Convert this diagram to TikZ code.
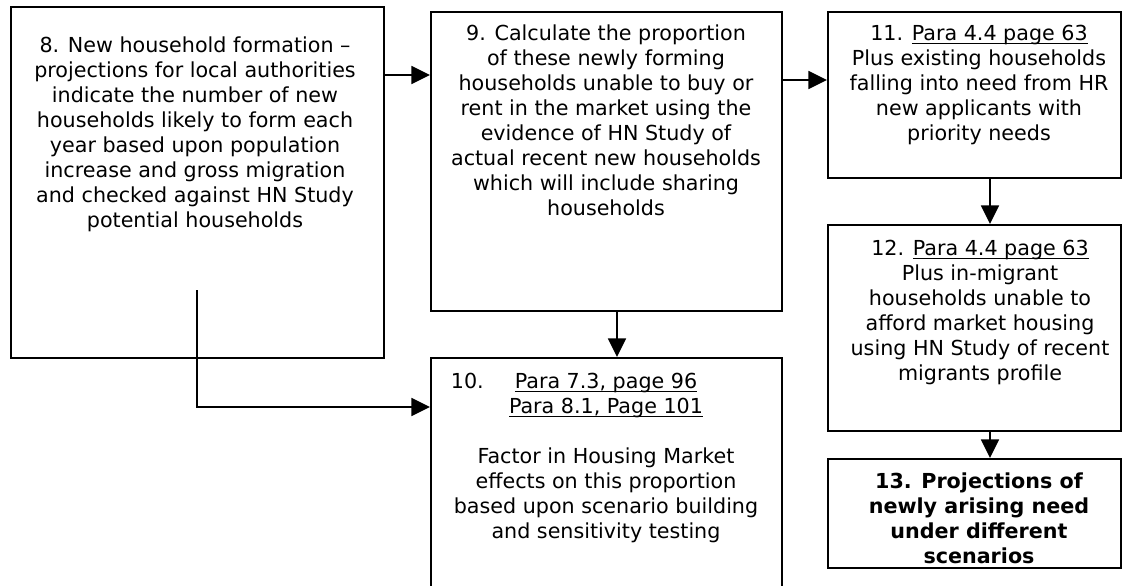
\documentclass[tikz,border=0pt]{standalone}
\usepackage{fontspec}
\setmainfont{DejaVu Sans}
\usetikzlibrary{arrows.meta}
\newcommand\myul[1]{\setbox0\hbox{#1}\rlap{\rule[-2.8pt]{\wd0}{0.9pt}}\box0}
\begin{document}
\begin{tikzpicture}[x=0.75pt,y=-0.75pt,
  box/.style={draw, line width=1.3pt, rectangle, inner sep=0pt, anchor=north west},
  txt/.style={anchor=north, inner sep=0pt, align=center, font=\fontsize{15.5pt}{18.75pt}\selectfont},
  bold/.style={txt, font=\fontsize{15.5pt}{18.75pt}\selectfont\bfseries},
  arr/.style={line width=1.3pt, -{Triangle[length=14pt,width=13.5pt]}}]
\useasboundingbox (0,0) rectangle (1122,586);
\clip (0,0) rectangle (1122,586);
\fill[white] (0,0) rectangle (1122,586);
% boxes
\node[box, minimum width=279.75pt, minimum height=263.25pt] (b8) at (10,6) {};
\node[box, minimum width=263.25pt, minimum height=224.25pt] (b9) at (430,11) {};
\node[box, minimum width=263.25pt, minimum height=197.25pt] (b10) at (430,357) {};
\node[box, minimum width=219.75pt, minimum height=124.5pt] (b11) at (827,11) {};
\node[box, minimum width=219.75pt, minimum height=154.5pt] (b12) at (827,224) {};
\node[box, minimum width=219.75pt, minimum height=81.75pt] (b13) at (827,458) {};
% texts
\node[txt] (t8) at (195,37) {8. New household formation –\\projections for local authorities\\indicate the number of new\\households likely to form each\\year based upon population\\increase and gross migration\\and checked against HN Study\\potential households};
\node[txt] (t9) at (606,25) {9. Calculate the proportion\\of these newly forming\\households unable to buy or\\rent in the market using the\\evidence of HN Study of\\actual recent new households\\which will include sharing\\households};
\node[txt] (t10) at (606,373) {\makebox[0pt][r]{10.\hspace{23.25pt}}\myul{Para 7.3, page 96}\\\myul{Para 8.1, Page 101}\\[18.75pt]Factor in Housing Market\\effects on this proportion\\based upon scenario building\\and sensitivity testing};
\node[txt] (t11) at (979,25) {11. \myul{Para 4.4 page 63}\\Plus existing households\\falling into need from HR\\new applicants with\\priority needs};
\node[txt] (t12) at (980,240) {12. \myul{Para 4.4 page 63}\\Plus in-migrant\\households unable to\\afford market housing\\using HN Study of recent\\migrants profile};
\node[bold] (t13) at (979,473) {13. Projections of\\newly arising need\\under different\\scenarios};
% connectors
\draw[arr] (b8.east |- 0,75) -- (b9.west |- 0,75);
\draw[arr] (b9.east |- 0,80) -- (b11.west |- 0,80);
\draw[arr] (b9.south -| 617,0) -- (b10.north -| 617,0);
\draw[arr] (b11.south -| 990,0) -- (b12.north -| 990,0);
\draw[arr] (b12.south -| 990,0) -- (b13.north -| 990,0);
\coordinate (e8) at (197,290);
\draw[arr] (e8) |- (b10.west |- 0,407);
\end{tikzpicture}
\end{document}
